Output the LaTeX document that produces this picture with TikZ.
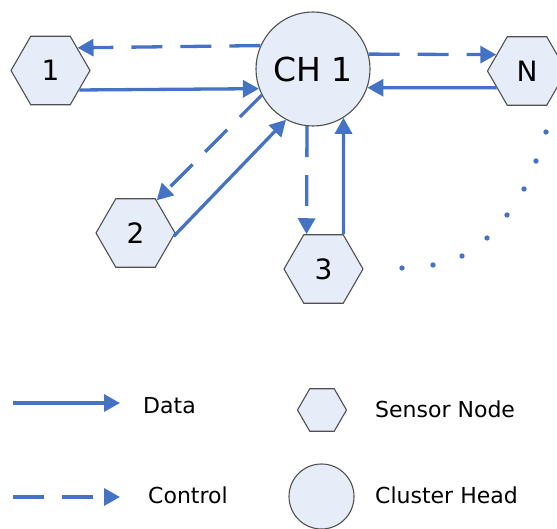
\documentclass[tikz,border=0pt]{standalone}
\usepackage{fontspec}
\setmainfont{DejaVu Sans}
\usetikzlibrary{arrows.meta,shapes.geometric}

\definecolor{linkblue}{RGB}{68,114,196}
\definecolor{nodefill}{RGB}{231,237,248}
\definecolor{nodeline}{RGB}{80,80,80}

\tikzset{
    sensornode/.style={regular polygon, regular polygon sides=6, draw=nodeline, fill=nodefill,
        line width=1.1pt, minimum size=79pt, inner sep=0pt, font=\fontsize{28}{30}\selectfont},
    headnode/.style={circle, draw=nodeline, fill=nodefill, line width=1.1pt,
        minimum size=114pt, inner sep=0pt, font=\fontsize{33}{36}\selectfont},
    datalink/.style={color=linkblue, line width=3.3pt, -{Triangle[length=16pt,width=17pt]}},
    ctrllink/.style={datalink, dash pattern=on 31pt off 18pt},
    legtext/.style={anchor=west, inner sep=0pt, font=\fontsize{22}{26}\selectfont}
}

\begin{document}
\begin{tikzpicture}[x=1pt, y=-1pt]
        \useasboundingbox (0,0) rectangle (557,529);

        % Cluster head e nodi
        \node[headnode] (ch) at (313,69) {CH 1};
        \node[sensornode] (s1) at (50.5,70.5) {1};
        \node[sensornode] (s2) at (135.5,233) {2};
        \node[sensornode] (s3) at (323.5,269) {3};
        \node[sensornode] (sn) at (527,71) {N};

        % Controllo
        \draw[ctrllink] (ch.156) -- (s1.40);
        \draw[ctrllink] (ch.15) -- (sn.152);
        \draw[ctrllink] (ch.207) -- (s2.57);
        \draw[ctrllink] (ch.264) -- (s3.116);

        % Dati
        \draw[datalink] (s1.-34) -- (ch.200);
        \draw[datalink] (sn.209) -- (ch.-19);
        \draw[datalink] (s2.-5) -- (ch.242);
        \draw[datalink] (s3.60) -- (ch.302);

        % Puntini
        \foreach \p in {(402,268),(433,265),(462,256),(487,238),(507,215),(524,189),(536,161),(546,132)}
            \fill[linkblue] \p circle (2.7pt);

        % Legenda
        \coordinate (dataA) at (13,403);
        \coordinate (dataB) at (120,403);
        \coordinate (ctrlA) at (13,497);
        \coordinate (ctrlB) at (120,497);
        \draw[datalink] (dataA) -- (dataB);
        \draw[ctrllink] (ctrlA) -- (ctrlB);
        \node[legtext] (dataT) at (143,406) {Data};
        \node[legtext] (ctrlT) at (148,495) {Control};
        \node[sensornode, minimum size=49pt] (legS) at (322,410) {};
        \node[headnode, minimum size=65pt] (legH) at (321.5,496.5) {};
        \node[legtext] (sensT) at (375,409) {Sensor Node};
        \node[legtext] (headT) at (375,495) {Cluster Head};
\end{tikzpicture}
\end{document}
